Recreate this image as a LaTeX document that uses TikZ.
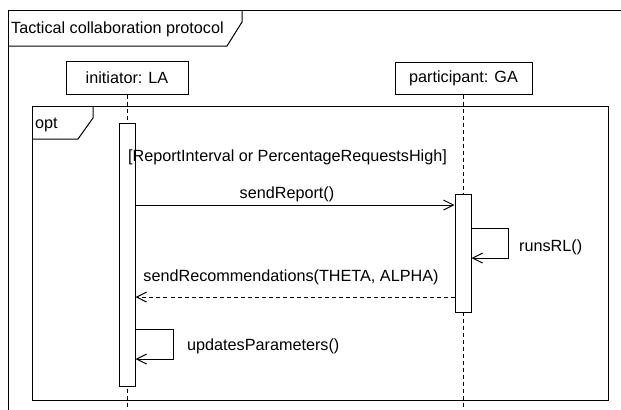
\documentclass[tikz,border=0pt]{standalone}
\usepackage{fontspec}
\setmainfont{Liberation Sans}
\usetikzlibrary{arrows.meta}

\tikzset{
  seqline/.style={line width=1bp, draw=black},
  lifebox/.style={seqline, rectangle, fill=white, inner sep=0pt},
  actbox/.style={seqline, rectangle, fill=white, inner sep=0pt, minimum width=16bp},
  lifeline/.style={line width=1bp, dash pattern=on 4bp off 3bp},
  msg/.style={seqline, -{Straight Barb[length=10bp,width=10bp,line width=1bp]}},
  reply/.style={msg, dash pattern=on 4bp off 3bp},
  lbl/.style={inner sep=0pt, font=\fontsize{16.2bp}{19bp}\selectfont},
}

\begin{document}
\begin{tikzpicture}[x=1bp,y=-1bp]
  \useasboundingbox (0,0) rectangle (621,409);
  \fill[white] (0,0) rectangle (621,409);
  \begin{scope}
    \clip (0,0) rectangle (621,409);

    % outer interaction frame and its name tag
    \draw[seqline] (8,415) -- (8,10) -- (630,10);
    \draw[seqline] (8,46) -- (227,46) -- (242,22) -- (242,10);
    \node[lbl, anchor=base west] (title) at (11,33.5) {Tactical collaboration protocol};

    % lifeline heads
    \node[lifebox, minimum width=122bp, minimum height=33bp] (la) at (127,77.5) {};
    \node[lbl] (latext) at (la.center) {initiator: LA};
    \node[lifebox, minimum width=137bp, minimum height=32bp] (ga) at (463.5,78) {};
    \node[lbl] (gatext) at (ga.center) {participant: GA};

    % lifelines
    \coordinate (laEnd) at (127,412);
    \coordinate (gaEnd) at (463.5,407);
    \draw[lifeline] (la.south) -- (laEnd);
    \draw[lifeline] (ga.south) -- (gaEnd);

    % opt combined fragment
    \draw[seqline] (32,106) rectangle (608,400);
    \draw[seqline] (32,139) -- (78,139) -- (93,118) -- (93,106);
    \node[lbl, anchor=base west] (opt) at (35,128) {opt};

    % activation bars
    \node[actbox, minimum height=263bp] (actLA) at (127,254.5) {};
    \node[actbox, minimum height=118bp] (actGA) at (463,253) {};

    % guard of the fragment, drawn over the activation bar
    \node[lbl, anchor=base] (guard) at (287.5,161) {[ReportInterval or PercentageRequestsHigh]};

    % sendReport()
    \coordinate (repFrom) at (actLA.east |- 0,205);
    \coordinate (repTo) at (actGA.west |- 0,205);
    \draw[msg] (repFrom) -- (repTo);
    \node[lbl, anchor=base] (replbl) at (287,198) {sendReport()};

    % runsRL() self call
    \coordinate (rlFrom) at (actGA.east |- 0,228);
    \coordinate (rlTo) at (actGA.east |- 0,258);
    \draw[msg] (rlFrom) -- ++(37,0) |- (rlTo);
    \node[lbl, anchor=base west] (rllbl) at (519,251) {runsRL()};

    % sendRecommendations(THETA, ALPHA)
    \coordinate (recFrom) at (actGA.west |- 0,297);
    \coordinate (recTo) at (actLA.east |- 0,297);
    \draw[reply] (recFrom) -- (recTo);
    \node[lbl, anchor=base] (reclbl) at (291,281) {sendRecommendations(THETA, ALPHA)};

    % updatesParameters() self call
    \coordinate (upFrom) at (actLA.east |- 0,329);
    \coordinate (upTo) at (actLA.east |- 0,359);
    \draw[msg] (upFrom) -- ++(38,0) |- (upTo);
    \node[lbl, anchor=base west] (uplbl) at (187,350) {updatesParameters()};
  \end{scope}
\end{tikzpicture}
\end{document}
